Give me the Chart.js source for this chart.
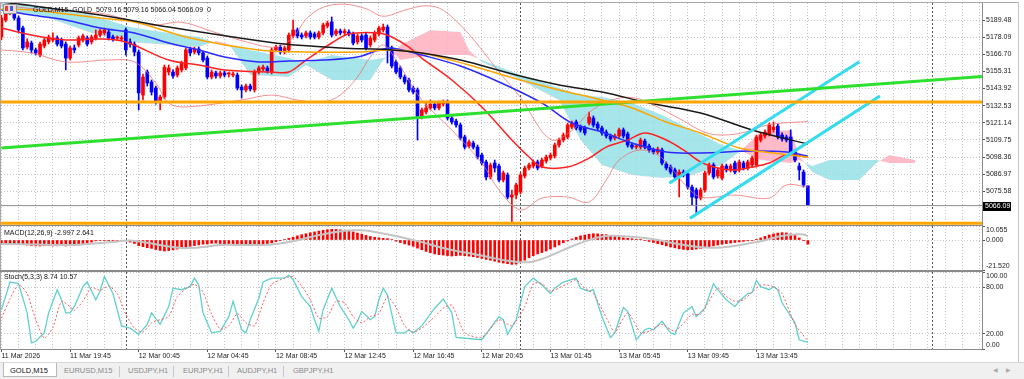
<!DOCTYPE html>
<html><head><meta charset="utf-8">
<script src="https://cdn.jsdelivr.net/npm/chart.js@4.4.1/dist/chart.umd.min.js"></script>
<style>
html,body{margin:0;padding:0;background:#fff;}
#wrap{position:relative;width:1024px;height:379px;overflow:hidden;background:#fff;font-family:'Liberation Sans',Arial,sans-serif;}
canvas{position:absolute;left:0;}
.t{position:absolute;font-size:7px;line-height:8px;color:#111;white-space:pre;z-index:5;}
.ln{position:absolute;z-index:4;}
#tabs{position:absolute;left:0;top:362px;width:1024px;height:17px;background:#f0f0f0;border-top:1px solid #d8d8d8;z-index:6;}
.tab{position:absolute;top:3px;font-size:7.5px;color:#8a8a8a;white-space:pre;}
.tsep{position:absolute;top:3px;width:1px;height:11px;background:#c8c8c8;}
</style></head><body>
<div id="wrap">
<canvas id="cMain" width="1024" height="227" style="top:0px"></canvas>
<canvas id="cMacd" width="1024" height="64" style="top:216px"></canvas>
<canvas id="cStoch" width="1024" height="100" style="top:262px"></canvas>

<div class="ln" style="left:0;top:2px;width:1018px;height:1px;background:#a8a8a8"></div>
<div class="ln" style="left:0;top:2px;width:1px;height:348px;background:#a8a8a8"></div>
<div class="ln" style="left:0;top:225px;width:983px;height:1px;background:#8a8a8a"></div>
<div class="ln" style="left:0;top:270px;width:983px;height:2px;background:#8a8a8a"></div>
<div class="ln" style="left:1018px;top:2px;width:1px;height:360px;background:#c8c8c8"></div>

<div class="ln" style="left:3px;top:4px;width:12px;height:8px;border:1px solid #9a9a9a;background:#f4d8d8"></div>
<div class="ln" style="left:5px;top:6px;width:3px;height:5px;background:#e04040;z-index:5"></div>
<div class="ln" style="left:10px;top:6px;width:3px;height:5px;background:#4060e0;z-index:5"></div>

<div class="t" style="left:33px;top:6px">GOLD,M15  GOLD  5079.16 5079.16 5066.04 5066.09  0</div>
<div class="t" style="left:4px;top:229px">MACD(12,26,9) -2.997 2.641</div>
<div class="t" style="left:4px;top:273px">Stoch(5,3,3) 8.74 10.57</div>

<div id="tabs">
  <div style="position:absolute;left:3px;top:0px;width:52px;height:13px;background:#fff;border:1px solid #b8b8b8;border-top:none"></div>
  <div class="tab" style="left:10px;color:#111">GOLD,M15</div>
  <div class="tab" style="left:64px">EURUSD,M15</div>
  <div class="tsep" style="left:119px"></div>
  <div class="tab" style="left:128px">USDJPY,H1</div>
  <div class="tsep" style="left:173px"></div>
  <div class="tab" style="left:183px">EURJPY,H1</div>
  <div class="tsep" style="left:228px"></div>
  <div class="tab" style="left:237px">AUDJPY,H1</div>
  <div class="tsep" style="left:283px"></div>
  <div class="tab" style="left:293px">GBPJPY,H1</div>
  <div class="tab" style="left:993px;font-size:6px;color:#aaa">&#9664;</div>
  <div class="tab" style="left:1006px;font-size:6px;color:#aaa">&#9654;</div>
</div>
</div>
<script>
// ---------------- DATA ----------------
const opens = [
5178.2,5189.5,5194.2,5197.5,5190.8,5184.2,5171.5,5174.2,5169.6,5166.2,
5172.2,5174.9,5176.2,5177.5,5176.2,5173.5,5164.2,5170.9,5172.9,5176.2,
5177.5,5174.9,5177.5,5179.5,5180.9,5181.5,5178.2,5177.5,5176.9,5182.9,
5174.9,5173.5,5168.2,5139.6,5154.9,5148.3,5144.3,5135.0,5138.3,5154.9,
5154.9,5152.9,5156.3,5157.6,5170.2,5168.2,5170.2,5167.6,5164.2,5151.6,
5154.3,5152.3,5154.3,5153.6,5152.9,5152.9,5144.9,5143.0,5145.6,5143.0,
5154.9,5156.9,5157.6,5154.9,5169.6,5171.5,5168.2,5169.6,5178.9,5182.9,
5179.5,5178.9,5180.9,5180.2,5178.2,5180.9,5185.5,5188.2,5180.2,5182.2,
5180.9,5181.5,5180.2,5174.9,5178.9,5179.5,5172.9,5176.2,5180.2,5182.9,
5184.8,5170.9,5161.6,5157.6,5151.6,5149.6,5144.3,5143.0,5125.0,5128.3,
5131.0,5133.6,5131.0,5133.6,5135.0,5124.3,5122.3,5119.7,5111.7,5105.7,
5107.7,5105.0,5099.7,5095.1,5085.1,5094.4,5092.4,5083.1,5086.4,5071.8,
5073.1,5075.1,5085.8,5091.1,5092.4,5095.1,5092.4,5095.7,5097.7,5099.1,
5106.4,5109.7,5111.7,5118.3,5121.7,5118.3,5117.7,5121.0,5124.3,5120.3,
5117.7,5115.0,5112.4,5111.0,5112.4,5116.4,5113.7,5106.4,5105.0,5105.0,
5109.0,5105.7,5103.1,5101.7,5103.1,5093.7,5091.7,5089.8,5085.1,5088.4,
5087.1,5078.4,5076.5,5071.1,5076.5,5087.8,5093.1,5085.8,5084.4,5092.4,
5089.8,5094.4,5089.8,5094.4,5091.1,5093.1,5093.1,5109.7,5112.4,5113.7,
5116.4,5119.0,5113.0,5111.7,5111.7,5101.7,5092.4,5088.4,5079.16];
const highs = [
5192.8,5196.2,5198.1,5200.1,5192.2,5185.5,5176.9,5175.5,5170.9,5174.9,
5177.5,5179.5,5180.9,5178.9,5177.5,5174.9,5172.2,5172.9,5178.9,5180.2,
5178.9,5179.5,5182.9,5183.5,5184.2,5182.9,5179.5,5178.9,5178.9,5184.2,
5176.9,5174.9,5169.6,5153.6,5156.3,5149.6,5145.6,5139.6,5159.6,5159.6,
5156.3,5158.9,5162.2,5170.9,5171.5,5171.5,5171.5,5168.9,5165.6,5156.3,
5155.6,5155.6,5155.6,5154.9,5154.9,5154.3,5146.3,5146.9,5146.9,5156.3,
5158.9,5159.6,5158.9,5170.9,5172.9,5172.9,5172.2,5180.9,5189.5,5184.2,
5180.9,5182.2,5182.2,5181.5,5182.2,5187.5,5188.8,5191.5,5183.5,5183.5,
5183.5,5182.9,5181.5,5180.2,5180.2,5180.9,5178.9,5182.2,5185.5,5186.8,
5186.2,5172.2,5162.9,5158.9,5152.9,5150.9,5145.6,5144.3,5131.0,5135.0,
5136.3,5135.0,5135.6,5136.3,5136.3,5125.7,5123.7,5121.0,5113.0,5109.7,
5109.0,5106.4,5101.1,5096.4,5094.4,5096.4,5093.7,5089.1,5087.8,5076.5,
5081.1,5087.8,5092.4,5094.4,5096.4,5096.4,5097.7,5099.7,5101.1,5107.7,
5111.0,5114.4,5121.0,5122.3,5123.0,5119.7,5119.0,5128.3,5125.7,5121.7,
5119.0,5116.4,5113.7,5113.7,5117.7,5117.7,5115.0,5107.7,5107.0,5111.0,
5110.4,5107.0,5104.4,5105.0,5104.4,5095.1,5093.1,5091.1,5089.8,5089.8,
5088.4,5079.8,5077.8,5077.8,5089.1,5094.4,5094.4,5091.1,5093.7,5093.7,
5093.7,5095.7,5096.4,5095.7,5096.4,5099.1,5113.0,5114.4,5116.4,5121.0,
5121.7,5120.3,5114.4,5113.0,5116.4,5103.1,5094.4,5089.8,5079.16];
const lows = [
5176.2,5188.2,5192.8,5189.5,5180.9,5169.6,5170.2,5167.6,5166.2,5164.9,
5170.9,5173.5,5174.9,5172.2,5170.9,5156.3,5162.9,5167.6,5171.5,5174.9,
5172.2,5173.5,5176.2,5178.2,5179.5,5176.2,5175.5,5176.2,5175.5,5166.2,
5171.5,5165.6,5129.7,5136.3,5145.6,5139.6,5133.6,5129.7,5137.0,5152.9,
5150.9,5151.6,5154.9,5156.3,5165.6,5166.9,5166.2,5161.6,5150.3,5150.3,
5150.9,5150.9,5151.6,5151.6,5151.6,5143.0,5137.6,5141.6,5142.3,5141.6,
5153.6,5155.6,5154.3,5153.6,5168.2,5166.9,5166.9,5168.2,5177.5,5177.5,
5176.9,5177.5,5176.9,5176.9,5176.9,5179.5,5184.2,5178.2,5178.9,5179.5,
5179.5,5178.9,5172.9,5173.5,5174.9,5169.6,5171.5,5174.9,5178.9,5181.5,
5160.9,5157.6,5153.6,5150.3,5146.9,5141.6,5140.3,5109.7,5123.7,5127.0,
5129.7,5129.7,5129.7,5132.3,5123.0,5120.3,5118.3,5109.7,5103.7,5104.4,
5103.7,5097.1,5093.1,5083.1,5083.8,5088.4,5081.8,5081.8,5070.5,5055.2,
5070.5,5073.8,5084.4,5089.8,5091.1,5089.8,5091.1,5094.4,5096.4,5097.7,
5105.0,5108.4,5110.4,5117.0,5116.4,5115.0,5113.0,5119.7,5118.3,5116.4,
5113.0,5111.0,5109.0,5109.7,5111.0,5111.0,5105.0,5103.7,5103.7,5103.7,
5103.7,5101.7,5100.4,5100.4,5093.1,5089.8,5087.1,5083.8,5071.8,5085.1,
5077.1,5066.5,5061.2,5069.8,5075.1,5086.4,5083.8,5084.4,5083.1,5088.4,
5088.4,5087.1,5088.4,5089.8,5089.8,5091.7,5091.7,5108.4,5111.0,5112.4,
5115.0,5110.4,5109.0,5108.4,5100.4,5095.1,5083.1,5078.4,5066.04];
const closes = [
5190.8,5194.8,5196.2,5190.8,5182.9,5170.9,5174.9,5169.6,5167.6,5173.5,
5176.2,5178.2,5177.5,5173.5,5172.2,5164.2,5170.9,5169.6,5177.5,5178.9,
5173.5,5178.2,5179.5,5182.2,5182.9,5177.5,5176.9,5178.2,5177.5,5169.6,
5173.5,5168.2,5141.0,5151.6,5147.6,5141.6,5135.0,5138.3,5158.2,5157.6,
5152.3,5157.6,5160.9,5169.6,5167.6,5170.2,5167.6,5162.9,5151.6,5154.9,
5152.3,5154.3,5152.9,5153.6,5153.6,5144.3,5143.0,5145.6,5143.6,5154.9,
5157.6,5158.2,5155.6,5169.6,5171.5,5168.2,5170.9,5179.5,5182.9,5178.9,
5178.2,5180.9,5178.2,5178.2,5180.9,5186.2,5187.5,5179.5,5182.2,5180.9,
5182.2,5180.2,5174.2,5178.9,5176.2,5170.9,5177.5,5180.9,5184.2,5184.8,
5171.5,5158.9,5154.9,5151.6,5148.3,5143.0,5141.6,5124.3,5129.7,5131.0,
5133.6,5131.0,5134.3,5135.0,5124.3,5121.7,5119.7,5111.0,5105.0,5108.4,
5105.0,5098.4,5094.4,5085.1,5093.1,5091.1,5083.1,5087.8,5071.8,5073.1,
5079.8,5086.4,5091.1,5093.1,5095.1,5091.1,5096.4,5098.4,5099.7,5106.4,
5109.7,5113.0,5119.7,5121.0,5117.7,5116.4,5114.4,5125.0,5119.7,5117.7,
5114.4,5112.4,5110.4,5112.4,5116.4,5112.4,5106.4,5105.0,5105.7,5109.7,
5105.0,5103.1,5101.7,5103.7,5094.4,5091.1,5088.4,5085.1,5088.4,5086.4,
5078.4,5071.8,5071.1,5076.5,5087.8,5093.1,5085.1,5089.8,5092.4,5089.8,
5092.4,5088.4,5095.1,5091.1,5095.1,5097.7,5111.7,5113.0,5115.0,5119.7,
5118.3,5111.7,5110.4,5109.7,5101.7,5096.4,5089.8,5079.8,5066.09];

// moving averages / bands: [bar, price]
const maBlack = [[0,5201.5],[4,5200.1],[23,5192.8],[39,5184.8],[54,5178.2],[66,5173.5],[79,5170.9],[91,5169.6],[98,5167.6],[107,5162.9],[120,5152.9],[130,5146.3],[140,5141.6],[151,5134.3],[163,5127.7],[175,5116.4],[188,5107.0]];
const maOrange = [[0,5196.8],[7,5196.2],[23,5190.8],[31,5188.2],[44,5177.5],[60,5169.6],[71,5168.2],[83,5168.2],[91,5169.6],[98,5167.6],[109,5159.6],[121,5149.6],[130,5143.0],[140,5136.3],[147,5131.0],[155,5121.7],[163,5114.4],[172,5104.4],[180,5101.1],[188,5098.4]];
const maBlue = [[0,5196.2],[7,5192.8],[15,5189.5],[23,5184.2],[31,5180.9],[39,5174.2],[46,5169.6],[52,5164.9],[60,5161.6],[67,5162.2],[75,5162.9],[83,5164.9],[88,5169.6],[91,5170.9],[98,5166.2],[107,5158.9],[116,5148.3],[126,5134.3],[133,5121.0],[140,5115.0],[147,5107.7],[155,5101.7],[163,5101.1],[175,5102.4],[183,5101.7],[188,5099.1]];
const maRed = [[0,5184.2],[7,5179.5],[15,5176.2],[23,5176.9],[29,5174.9],[39,5162.9],[46,5159.6],[52,5156.3],[63,5154.9],[67,5154.9],[71,5162.9],[77,5174.2],[81,5180.2],[88,5180.9],[91,5178.2],[95,5171.5],[98,5164.2],[105,5149.6],[112,5131.7],[119,5109.7],[123,5098.4],[126,5091.7],[132,5091.7],[137,5097.7],[141,5105.0],[146,5109.7],[150,5114.4],[155,5109.7],[159,5103.1],[163,5095.1],[167,5091.1],[171,5089.8],[175,5091.7],[179,5094.4],[183,5099.7],[188,5098.4]];
const bandUpper = [[0,5199.5],[9,5196.5],[23,5194],[29,5190],[35,5186],[42,5188],[49,5182],[57,5175],[64,5171.5],[68,5178],[71,5190],[75,5198],[80,5200],[85,5197],[89,5192],[94,5196],[99,5199],[103,5196],[109,5180],[116,5155],[121,5138],[128,5110],[133,5116],[137,5128],[142,5136],[147,5138],[152,5133],[158,5124],[165,5114],[172,5114],[179,5120],[188,5122]];
const bandLower = [[0,5169.6],[7,5167.6],[15,5161.6],[25,5162.9],[31,5161.6],[36,5147.6],[39,5134.3],[43,5131.7],[56,5136.3],[63,5139.6],[69,5136.3],[75,5135.0],[79,5139.6],[83,5151.6],[86,5164.9],[89,5172.9],[92,5162.9],[98,5136.3],[105,5116.4],[112,5094.4],[116,5076.5],[121,5063.2],[126,5071.1],[132,5071.8],[137,5068.5],[141,5083.1],[144,5096.4],[149,5103.1],[154,5097.7],[159,5081.1],[163,5071.8],[171,5073.1],[179,5071.1],[183,5079.8],[188,5078.4]];
const cloudSpanA = [[0,5200.8],[11,5197.5],[21,5192.8],[30,5184.8],[39,5180.9],[46,5178.2],[50,5174.2],[53,5172.9],[58,5169.6],[67,5164.2],[71,5160.9],[77,5166.2],[86,5162.9],[89,5164.2],[92,5166.2],[93,5162.9],[100,5166.2],[107,5166.2],[109,5166.2],[112,5162.9],[121,5152.9],[130,5144.3],[135,5139.6],[140,5138.3],[147,5134.3],[154,5126.3],[161,5116.4],[168,5106.4],[172,5103.1],[177,5096.4],[184,5094.4],[186,5096.4],[189,5092.4],[193,5096.4],[200,5096.4],[204,5096.4],[207,5094.4],[213,5094.4]];
const cloudSpanB = [[0,5196.2],[11,5190.8],[21,5180.9],[30,5174.9],[39,5172.9],[46,5171.5],[50,5175.5],[53,5173.5],[58,5152.9],[67,5151.6],[71,5159.6],[77,5149.6],[86,5149.6],[89,5162.9],[92,5169.6],[93,5172.9],[100,5182.9],[107,5181.5],[109,5169.6],[112,5161.6],[121,5149.6],[130,5136.3],[135,5109.7],[140,5093.1],[147,5086.4],[154,5084.4],[161,5086.4],[168,5093.1],[172,5101.7],[177,5115.0],[184,5116.4],[186,5099.1],[189,5088.4],[193,5083.1],[200,5083.1],[204,5094.4],[207,5099.7],[213,5096.4]];

// drawn objects: [bar, price]
const greenTrend = [[0,5104.4],[228.6,5151.9]];
const cyanChannelUpper = [[155.7,5080.9],[200.0,5161.8]];
const cyanChannelLower = [[160.5,5057.6],[204.8,5139.0]];
const orangeLevelHigh = 5135.0;
const orangeLevelLow = 5054.3;
const bidPrice = 5066.09;

// MACD(12,26,9)
const macdMain = [
-2.4,-2.6,-2.8,-2.6,-3.0,-3.3,-3.6,-4.0,-4.2,-4.3,
-4.0,-4.1,-4.3,-4.2,-4.0,-4.3,-4.1,-3.7,-3.3,-2.6,
-2.0,-1.5,-0.6,-0.4,-0.3,-0.2,-0.2,-0.3,-0.2,-0.5,
-1.5,-2.5,-4.0,-4.8,-5.5,-6.0,-6.8,-7.5,-7.9,-7.6,
-7.0,-6.5,-6.0,-5.2,-4.5,-4.0,-3.5,-3.0,-2.8,-2.4,
-2.2,-2.5,-2.8,-3.2,-3.5,-3.8,-4.0,-3.9,-3.8,-3.6,
-3.3,-3.0,-2.6,-2.0,-1.2,-0.5,0.3,1.2,2.0,3.0,
3.8,4.5,5.2,5.8,6.4,7.0,7.4,7.7,7.6,7.3,
7.0,6.4,5.8,5.0,4.2,3.3,2.5,2.0,1.6,1.2,
1.0,0.4,-0.8,-1.8,-2.8,-3.6,-4.5,-5.8,-7.0,-8.2,
-9.1,-10.0,-10.5,-10.8,-11.2,-11.5,-11.3,-11.0,-11.2,-11.6,
-12.0,-12.5,-13.2,-13.9,-14.5,-15.2,-15.9,-16.5,-17.0,-17.5,
-17.3,-16.2,-14.5,-12.7,-11.2,-10.0,-9.0,-7.9,-6.5,-5.0,
-3.6,-1.9,-0.6,0.8,2.0,3.0,3.6,4.2,4.5,4.4,
4.0,3.8,3.3,2.8,2.2,1.6,1.2,0.9,0.5,0.2,
-0.4,-1.0,-1.8,-2.6,-3.4,-4.2,-5.0,-5.6,-6.3,-6.8,
-7.0,-6.9,-6.5,-6.0,-5.4,-4.8,-4.2,-3.6,-3.0,-2.6,
-2.2,-1.8,-1.4,-1.0,-0.6,-0.3,0.5,1.5,2.6,3.6,
4.4,5.0,5.3,5.1,4.4,3.3,1.5,-0.5,-2.997];
const macdSignal = [[0,-2.8],[8,-3.2],[16,-3.6],[22,-2.4],[27,-1.0],[30,-0.3],[34,-2.0],[38,-4.2],[42,-5.8],[45,-5.6],[48,-4.6],[51,-3.6],[56,-3.5],[62,-3.4],[66,-2.0],[70,0.5],[74,3.5],[78,5.8],[82,7.0],[85,6.8],[88,5.2],[91,3.4],[94,1.4],[98,-1.5],[102,-5.0],[106,-7.8],[110,-10.0],[114,-12.6],[118,-14.9],[121,-16.0],[124,-15.4],[127,-12.5],[130,-8.5],[133,-4.5],[136,-1.0],[139,1.8],[142,3.0],[146,2.6],[150,1.4],[154,-0.6],[158,-3.0],[162,-4.8],[166,-5.6],[170,-4.6],[174,-2.6],[178,-0.2],[181,2.4],[184,3.8],[187,3.9],[188,2.641]];

// Stochastic(5,3,3)
const stochMain = [[0,51],[2,87],[4,85],[6,47],[7,8],[8,10],[10,21],[11,47],[13,77],[14,64],[15,47],[16,47],[17,55],[19,81],[20,87],[22,64],[23,75],[24,94],[26,72],[28,30],[30,27],[32,19],[34,32],[35,47],[37,32],[39,55],[40,79],[42,77],[44,81],[45,92],[46,83],[47,47],[49,21],[51,23],[53,42],[54,62],[56,25],[57,21],[58,38],[60,66],[61,87],[63,92],[66,92],[67,96],[68,90],[70,68],[72,55],[73,38],[74,23],[75,51],[77,79],[79,55],[81,38],[82,27],[83,36],[84,49],[86,38],[87,42],[88,64],[89,79],[90,70],[92,21],[94,21],[95,25],[96,21],[98,30],[101,53],[103,65],[105,47],[106,15],[112,12],[114,27],[116,42],[117,38],[118,19],[120,38],[121,60],[122,81],[124,92],[126,83],[128,72],[129,79],[131,87],[134,92],[135,79],[137,75],[138,77],[140,42],[142,15],[143,21],[145,54],[146,49],[148,12],[150,25],[151,27],[152,25],[154,36],[156,21],[157,19],[159,47],[161,55],[162,42],[164,53],[166,85],[167,77],[169,64],[171,55],[172,62],[174,72],[175,73],[176,89],[177,81],[179,77],[180,81],[181,77],[182,60],[185,34],[186,12],[188,8.74]];
const stochSignal = [[0,40],[2,65],[4,84],[6,72],[8,38],[10,14],[12,28],[14,62],[16,55],[17,50],[19,62],[21,80],[23,76],[25,82],[27,72],[29,45],[31,27],[33,22],[35,34],[37,38],[39,42],[41,68],[43,78],[45,84],[47,74],[49,45],[51,26],[53,30],[55,46],[57,34],[59,30],[61,60],[63,84],[66,92],[68,94],[70,82],[72,64],[74,40],[76,42],[78,62],[80,60],[82,42],[84,34],[86,42],[88,46],[90,68],[92,54],[94,30],[96,22],[98,27],[101,42],[103,53],[105,57],[108,21],[112,15],[116,38],[119,30],[122,55],[124,85],[126,85],[128,75],[132,85],[134,90],[136,79],[138,72],[142,30],[143,21],[146,47],[149,21],[151,23],[154,32],[157,23],[161,45],[163,45],[167,79],[169,68],[171,62],[173,64],[177,83],[180,81],[182,72],[185,32],[188,10.57]];

// axes / labels
const priceTicks = [5189.48,5178.09,5166.70,5155.31,5143.92,5132.53,5121.14,5109.75,5098.36,5086.97,5075.58];
const macdTicks = [10.055,0,-21.52];
const macdTickLabels = ['10.055','0.000','-21.520'];
const stochTicks = [100,80,20,0];
const stochTickLabels = ['100.00','80.00','20.00','0.00'];
const timeLabels = ['11 Mar 2026','11 Mar 19:45','12 Mar 00:45','12 Mar 04:45','12 Mar 08:45','12 Mar 12:45','12 Mar 16:45','12 Mar 20:45','13 Mar 01:45','13 Mar 05:45','13 Mar 09:45','13 Mar 13:45'];
const timeLabelBars = [0,16,32,48,64,80,96,112,128,144,160,176];
const daySeparators = [29,121,217];

// ---------------- DRAWING ----------------
Chart.defaults.font.family = "'Liberation Sans', Arial, sans-serif";
Chart.defaults.font.size = 7;
Chart.defaults.color = '#222';

const GRID = 'rgba(150,150,150,0.55)';
const pts = a => a.map(p => ({x: p[0], y: p[1]}));
const flat = (v) => [[-0.1, v], [228.6, v]];
const idx = closes.map((_, i) => i);
const candleColor = i => closes[i] >= opens[i] ? '#ff0000' : '#0000ff';

function lineDs(arr, color, width, extra) {
  return Object.assign({type: 'line', data: pts(arr), borderColor: color, borderWidth: width,
    pointRadius: 0, fill: false, tension: 0.35, order: 3}, extra || {});
}
function noPad(s) { s.paddingTop = 0; s.paddingBottom = 0; s.paddingLeft = 0; s.paddingRight = 0; }

function xScale(show) {
  return {
    type: 'linear', min: -0.1, max: 228.6, offset: false,
    afterBuildTicks: s => { const t = []; for (let v = 0; v <= 228; v += 4) t.push({value: v}); s.ticks = t; },
    afterFit: s => { s.height = show ? 13 : 0; noPad(s); },
    grid: { color: GRID, lineWidth: 1, offset: false, drawTicks: show, tickLength: 3,
      tickColor: ctx => (ctx.tick && timeLabelBars.includes(ctx.tick.value)) ? '#555' : 'rgba(0,0,0,0)' },
    border: { display: show, color: '#8a8a8a', dash: [1, 2] },
    ticks: { display: show, autoSkip: false, maxRotation: 0, minRotation: 0, align: 'start', padding: 0,
      font: {size: 7}, color: '#222',
      callback: v => { const k = timeLabelBars.indexOf(v); return k >= 0 ? timeLabels[k] : ''; } }
  };
}
function yScale(min, max, ticks, labelFn) {
  return {
    position: 'right', min: min, max: max,
    afterBuildTicks: s => { s.ticks = ticks.map(v => ({value: v})); },
    afterFit: s => { s.width = 36; noPad(s); },
    grid: { color: GRID, lineWidth: 1, drawTicks: true, tickLength: 3, tickColor: '#555' },
    border: { display: true, color: '#8a8a8a', dash: [1, 2] },
    ticks: { padding: 1, font: {size: 7}, color: '#222', callback: labelFn }
  };
}

const sepPlugin = {
  id: 'daySep',
  beforeDatasetsDraw(chart) {
    const {ctx, chartArea: a, scales: {x}} = chart;
    ctx.save(); ctx.strokeStyle = '#555'; ctx.lineWidth = 1; ctx.setLineDash([2, 2]);
    daySeparators.forEach(b => {
      const px = Math.round(x.getPixelForValue(b)) + 0.5;
      ctx.beginPath(); ctx.moveTo(px, a.top); ctx.lineTo(px, a.bottom); ctx.stroke();
    });
    ctx.restore();
  }
};
const priceBox = {
  id: 'priceBox',
  afterDraw(chart) {
    const {ctx, scales: {y}} = chart;
    const py = Math.round(y.getPixelForValue(bidPrice));
    ctx.save();
    ctx.fillStyle = '#000'; ctx.fillRect(y.left + 1, py - 4, 28, 9);
    ctx.fillStyle = '#fff'; ctx.font = "7px 'Liberation Sans', Arial"; ctx.textBaseline = 'middle';
    ctx.fillText(bidPrice.toFixed(2), y.left + 3, py + 0.5);
    ctx.restore();
  }
};

const baseOpts = (pad) => ({
  responsive: false, animation: false, devicePixelRatio: 1,
  layout: {padding: pad},
  plugins: {legend: {display: false}, tooltip: {enabled: false}},
  events: []
});

// Main chart
new Chart(document.getElementById('cMain'), {
  type: 'bar',
  data: { datasets: [
    {type: 'line', data: pts(cloudSpanA), borderWidth: 0, pointRadius: 0, tension: 0,
     fill: {target: '+1', above: 'rgba(150,225,230,0.85)', below: 'rgba(255,175,190,0.85)'}, order: 20},
    {type: 'line', data: pts(cloudSpanB), borderWidth: 0, pointRadius: 0, tension: 0, fill: false, order: 19},
    {type: 'bar', data: idx.map(i => ({x: i, y: [lows[i], highs[i]]})), backgroundColor: idx.map(candleColor),
     barThickness: 1, grouped: false, order: 8},
    {type: 'bar', data: idx.map(i => ({x: i, y: [opens[i], closes[i]]})), backgroundColor: idx.map(candleColor),
     barThickness: 3, grouped: false, minBarLength: 1, order: 7},
    lineDs(bandUpper, 'rgba(240,110,110,0.75)', 1, {order: 4}),
    lineDs(bandLower, 'rgba(240,110,110,0.75)', 1, {order: 4}),
    lineDs(maBlack, '#1a1a1a', 1.5),
    lineDs(maOrange, '#ffa500', 1.5),
    lineDs(maBlue, '#2a2aff', 1.5),
    lineDs(maRed, '#ff2020', 1.5),
    lineDs(flat(bidPrice), '#8c8c8c', 1, {tension: 0, order: 2}),
    lineDs(flat(orangeLevelHigh), '#ffa500', 3, {tension: 0, order: 1}),
    lineDs(flat(orangeLevelLow), '#ffa500', 3, {tension: 0, order: 1}),
    lineDs(greenTrend, '#2ee02e', 3, {tension: 0, order: 1}),
    lineDs(cyanChannelUpper, '#35dcf0', 3, {tension: 0, order: 1}),
    lineDs(cyanChannelLower, '#35dcf0', 3, {tension: 0, order: 1})
  ]},
  options: Object.assign(baseOpts({left: 1, right: 6, top: 3, bottom: 2}), {
    scales: {
      x: xScale(false),
      y: yScale(5053.2, 5200.8, priceTicks, v => v.toFixed(2))
    }
  }),
  plugins: [sepPlugin, priceBox]
});

// MACD chart
new Chart(document.getElementById('cMacd'), {
  type: 'bar',
  data: { datasets: [
    {type: 'bar', data: idx.map(i => ({x: i, y: macdMain[i]})), backgroundColor: '#ff0000',
     barThickness: 2, grouped: false, order: 2},
    lineDs(macdSignal, '#c4c4c4', 2, {order: 1, tension: 0.3})
  ]},
  options: Object.assign(baseOpts({left: 1, right: 6, top: 10, bottom: 10}), {
    scales: {
      x: xScale(false),
      y: yScale(-21.52, 10.055, macdTicks, v => {
        const k = macdTicks.indexOf(v); const s = macdTickLabels[k];
        return k === 0 ? ['', s] : (k === macdTicks.length - 1 ? [s, ''] : s);
      })
    }
  }),
  plugins: [sepPlugin]
});

// Stochastic chart
new Chart(document.getElementById('cStoch'), {
  type: 'line',
  data: { datasets: [
    lineDs(stochMain, '#62cfcf', 1.3, {tension: 0, order: 2}),
    lineDs(stochSignal, '#ff5a5a', 1, {tension: 0.2, order: 1, borderDash: [2, 2]})
  ]},
  options: Object.assign(baseOpts({left: 1, right: 6, top: 10, bottom: 0}), {
    scales: {
      x: xScale(true),
      y: yScale(0, 100, stochTicks, v => {
        const k = stochTicks.indexOf(v); const s = stochTickLabels[k];
        return k === 0 ? ['', s] : (k === stochTicks.length - 1 ? [s, ''] : s);
      })
    }
  }),
  plugins: [sepPlugin]
});
</script>
</body></html>
